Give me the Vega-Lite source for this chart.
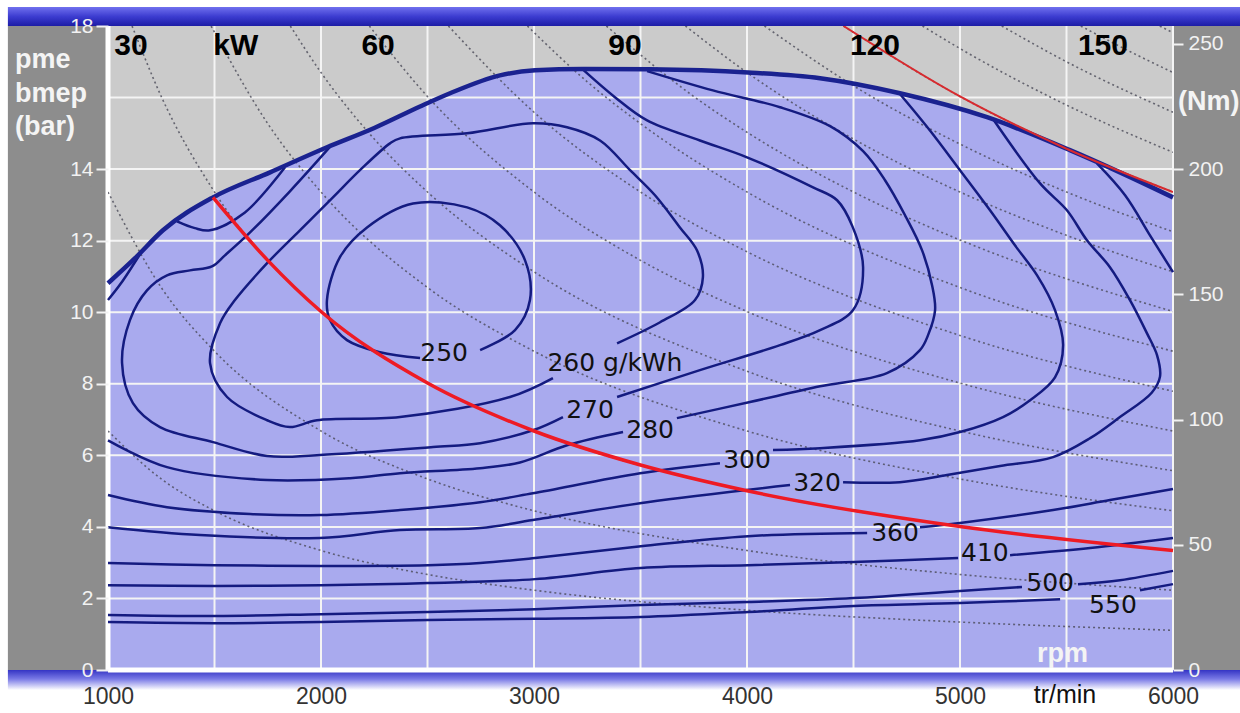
{
"$schema": "https://vega.github.io/schema/vega-lite/v6.json",
"width": 1065, "height": 644,
"autosize": {"type": "none"},
"padding": {"left": 108, "top": 26, "right": 67, "bottom": 43},
"background": "#ffffff",
"config": {"view": {"fill": "#cbcbcb", "stroke": null}, "text": {"font": "Liberation Sans"}},
"datasets": {
"side": [{"r": 530, "r2": 1000, "b": 0, "b2": 18}, {"r": 6000, "r2": 6330, "b": 0, "b2": 18}],
"topband": [{"r": 530, "r2": 6330, "b": 18, "b2": 18.53}],
"botband": [{"r": 530, "r2": 6330, "b": -0.56, "b2": 0}],
"gx": [{"r": 1500}, {"r": 2000}, {"r": 2500}, {"r": 3000}, {"r": 3500}, {"r": 4000}, {"r": 4500}, {"r": 5000}, {"r": 5500}, {"r": 6000}],
"gy": [{"b": 2}, {"b": 4}, {"b": 6}, {"b": 8}, {"b": 10}, {"b": 12}, {"b": 14}, {"b": 16}],
"fx": [{"r": 1000}],
"fy": [{"b": 0}],
"fl": [{"r":1000,"b":10.81},{"r":1127,"b":11.51},{"r":1258,"b":12.29},{"r":1493,"b":13.21},{"r":1761,"b":13.91},{"r":2028,"b":14.61},{"r":2250,"b":15.15},{"r":2465,"b":15.75},{"r":2606,"b":16.12},{"r":2840,"b":16.62},{"r":3005,"b":16.76},{"r":3230,"b":16.8},{"r":3545,"b":16.79},{"r":4005,"b":16.7},{"r":4343,"b":16.54},{"r":4718,"b":16.12},{"r":5127,"b":15.45},{"r":5516,"b":14.53},{"r":5751,"b":13.91},{"r":6000,"b":13.21}],
"pw": [
{"p":10,"r":1000,"b":6.68},{"p":10,"r":1250,"b":5.34},{"p":10,"r":1500,"b":4.45},{"p":10,"r":2000,"b":3.34},{"p":10,"r":2500,"b":2.67},{"p":10,"r":3000,"b":2.23},{"p":10,"r":4000,"b":1.67},{"p":10,"r":5000,"b":1.34},{"p":10,"r":6000,"b":1.11},
{"p":20,"r":1000,"b":13.36},{"p":20,"r":1250,"b":10.69},{"p":20,"r":1500,"b":8.91},{"p":20,"r":2000,"b":6.68},{"p":20,"r":2500,"b":5.34},{"p":20,"r":3000,"b":4.45},{"p":20,"r":4000,"b":3.34},{"p":20,"r":5000,"b":2.67},{"p":20,"r":6000,"b":2.23},
{"p":30,"r":1113,"b":18},{"p":30,"r":1250,"b":16.03},{"p":30,"r":1500,"b":13.36},{"p":30,"r":2000,"b":10.02},{"p":30,"r":2500,"b":8.02},{"p":30,"r":3000,"b":6.68},{"p":30,"r":4000,"b":5.01},{"p":30,"r":5000,"b":4.01},{"p":30,"r":6000,"b":3.34},
{"p":40,"r":1484,"b":18},{"p":40,"r":1750,"b":15.27},{"p":40,"r":2000,"b":13.36},{"p":40,"r":2500,"b":10.69},{"p":40,"r":3000,"b":8.91},{"p":40,"r":4000,"b":6.68},{"p":40,"r":5000,"b":5.34},{"p":40,"r":6000,"b":4.45},
{"p":50,"r":1856,"b":18},{"p":50,"r":2000,"b":16.7},{"p":50,"r":2250,"b":14.84},{"p":50,"r":2500,"b":13.36},{"p":50,"r":3000,"b":11.13},{"p":50,"r":4000,"b":8.35},{"p":50,"r":5000,"b":6.68},{"p":50,"r":6000,"b":5.57},
{"p":60,"r":2227,"b":18},{"p":60,"r":2500,"b":16.03},{"p":60,"r":3000,"b":13.36},{"p":60,"r":3500,"b":11.45},{"p":60,"r":4000,"b":10.02},{"p":60,"r":5000,"b":8.02},{"p":60,"r":6000,"b":6.68},
{"p":70,"r":2598,"b":18},{"p":70,"r":3000,"b":15.59},{"p":70,"r":3500,"b":13.36},{"p":70,"r":4000,"b":11.69},{"p":70,"r":5000,"b":9.35},{"p":70,"r":6000,"b":7.79},
{"p":80,"r":2969,"b":18},{"p":80,"r":3250,"b":16.44},{"p":80,"r":3500,"b":15.27},{"p":80,"r":4000,"b":13.36},{"p":80,"r":5000,"b":10.69},{"p":80,"r":6000,"b":8.91},
{"p":90,"r":3340,"b":18},{"p":90,"r":3750,"b":16.03},{"p":90,"r":4000,"b":15.03},{"p":90,"r":4500,"b":13.36},{"p":90,"r":5000,"b":12.02},{"p":90,"r":6000,"b":10.02},
{"p":100,"r":3711,"b":18},{"p":100,"r":4000,"b":16.7},{"p":100,"r":4500,"b":14.84},{"p":100,"r":5000,"b":13.36},{"p":100,"r":5500,"b":12.15},{"p":100,"r":6000,"b":11.13},
{"p":110,"r":4082,"b":18},{"p":110,"r":4500,"b":16.33},{"p":110,"r":5000,"b":14.7},{"p":110,"r":5500,"b":13.36},{"p":110,"r":6000,"b":12.25},
{"p":120,"r":4453,"b":18},{"p":120,"r":5000,"b":16.03},{"p":120,"r":5500,"b":14.57},{"p":120,"r":6000,"b":13.36},
{"p":130,"r":4824,"b":18},{"p":130,"r":5000,"b":17.37},{"p":130,"r":5500,"b":15.79},{"p":130,"r":6000,"b":14.47},
{"p":140,"r":5196,"b":18},{"p":140,"r":5500,"b":17.0},{"p":140,"r":6000,"b":15.59},
{"p":150,"r":5567,"b":18},{"p":150,"r":5800,"b":17.28},{"p":150,"r":6000,"b":16.7},
{"p":160,"r":5938,"b":18},{"p":160,"r":6000,"b":17.81}
],
"red30": [{"r":1493,"b":13.21},{"r":1750,"b":11.45},{"r":2000,"b":10.02},{"r":2500,"b":8.02},{"r":3000,"b":6.68},{"r":3500,"b":5.73},{"r":4000,"b":5.01},{"r":5000,"b":4.01},{"r":6000,"b":3.34}],
"red120": [{"r":4453,"b":18},{"r":5000,"b":16.03},{"r":5500,"b":14.57},{"r":6000,"b":13.36}],
"ct": [
{"s":"550a","i":0,"r":1000,"b":1.34},{"s":"550a","i":1,"r":1502,"b":1.31},{"s":"550a","i":2,"r":2000,"b":1.34},{"s":"550a","i":3,"r":2502,"b":1.4},{"s":"550a","i":4,"r":3005,"b":1.43},{"s":"550a","i":5,"r":3502,"b":1.48},{"s":"550a","i":6,"r":4005,"b":1.62},{"s":"550a","i":7,"r":4502,"b":1.79},{"s":"550a","i":8,"r":5000,"b":1.87},{"s":"550a","i":9,"r":5470,"b":1.98},
{"s":"550b","i":0,"r":5845,"b":2.23},{"s":"550b","i":1,"r":6000,"b":2.4},
{"s":"500a","i":0,"r":1000,"b":1.54},{"s":"500a","i":1,"r":1502,"b":1.51},{"s":"500a","i":2,"r":2000,"b":1.56},{"s":"500a","i":3,"r":2502,"b":1.62},{"s":"500a","i":4,"r":3005,"b":1.7},{"s":"500a","i":5,"r":3502,"b":1.82},{"s":"500a","i":6,"r":4005,"b":1.9},{"s":"500a","i":7,"r":4502,"b":2.01},{"s":"500a","i":8,"r":5000,"b":2.21},{"s":"500a","i":9,"r":5291,"b":2.32},
{"s":"500b","i":0,"r":5554,"b":2.4},{"s":"500b","i":1,"r":5751,"b":2.51},{"s":"500b","i":2,"r":6000,"b":2.77},
{"s":"410a","i":0,"r":1000,"b":2.37},{"s":"410a","i":1,"r":1502,"b":2.35},{"s":"410a","i":2,"r":2000,"b":2.37},{"s":"410a","i":3,"r":2502,"b":2.43},{"s":"410a","i":4,"r":3005,"b":2.54},{"s":"410a","i":5,"r":3502,"b":2.85},{"s":"410a","i":6,"r":4005,"b":2.93},{"s":"410a","i":7,"r":4502,"b":3.02},{"s":"410a","i":8,"r":4991,"b":3.13},
{"s":"410b","i":0,"r":5235,"b":3.21},{"s":"410b","i":1,"r":5611,"b":3.41},{"s":"410b","i":2,"r":6000,"b":3.69},
{"s":"360a","i":0,"r":1000,"b":2.99},{"s":"360a","i":1,"r":1502,"b":2.93},{"s":"360a","i":2,"r":2000,"b":2.91},{"s":"360a","i":3,"r":2502,"b":2.93},{"s":"360a","i":4,"r":2747,"b":2.99},{"s":"360a","i":5,"r":3005,"b":3.13},{"s":"360a","i":6,"r":3502,"b":3.46},{"s":"360a","i":7,"r":4005,"b":3.74},{"s":"360a","i":8,"r":4564,"b":3.83},
{"s":"360b","i":0,"r":4812,"b":3.99},{"s":"360b","i":1,"r":5000,"b":4.11},{"s":"360b","i":2,"r":5437,"b":4.47},{"s":"360b","i":3,"r":5704,"b":4.75},{"s":"360b","i":4,"r":6000,"b":5.06},
{"s":"360c","i":0,"r":5643,"b":14.16},{"s":"360c","i":1,"r":5775,"b":13.27},{"s":"360c","i":2,"r":5892,"b":12.15},{"s":"360c","i":3,"r":6000,"b":11.12},
{"s":"320a","i":0,"r":1000,"b":3.99},{"s":"320a","i":1,"r":1432,"b":3.77},{"s":"320a","i":2,"r":1995,"b":3.69},{"s":"320a","i":3,"r":2371,"b":3.91},{"s":"320a","i":4,"r":2747,"b":3.97},{"s":"320a","i":5,"r":2995,"b":4.19},{"s":"320a","i":6,"r":3531,"b":4.69},{"s":"320a","i":7,"r":4202,"b":5.17},
{"s":"320b","i":0,"r":4451,"b":5.25},{"s":"320b","i":1,"r":4718,"b":5.25},{"s":"320b","i":2,"r":4939,"b":5.45},{"s":"320b","i":3,"r":5188,"b":5.7},{"s":"320b","i":4,"r":5437,"b":5.95},{"s":"320b","i":5,"r":5611,"b":6.48},{"s":"320b","i":6,"r":5751,"b":7.07},{"s":"320b","i":7,"r":5900,"b":7.75},{"s":"320b","i":8,"r":5939,"b":8.2},{"s":"320b","i":9,"r":5925,"b":8.8},{"s":"320b","i":10,"r":5878,"b":9.41},{"s":"320b","i":11,"r":5798,"b":10.34},{"s":"320b","i":12,"r":5704,"b":11.26},{"s":"320b","i":13,"r":5596,"b":12.01},{"s":"320b","i":14,"r":5502,"b":12.85},{"s":"320b","i":15,"r":5376,"b":13.6},{"s":"320b","i":16,"r":5155,"b":15.4},
{"s":"300a","i":0,"r":1000,"b":4.89},{"s":"300a","i":1,"r":1277,"b":4.55},{"s":"300a","i":2,"r":1667,"b":4.36},{"s":"300a","i":3,"r":1995,"b":4.33},{"s":"300a","i":4,"r":2371,"b":4.47},{"s":"300a","i":5,"r":2747,"b":4.69},{"s":"300a","i":6,"r":2995,"b":4.94},{"s":"300a","i":7,"r":3498,"b":5.5},{"s":"300a","i":8,"r":3873,"b":5.78},
{"s":"300b","i":0,"r":4122,"b":6.15},{"s":"300b","i":1,"r":4343,"b":6.2},{"s":"300b","i":2,"r":4812,"b":6.42},{"s":"300b","i":3,"r":5000,"b":6.65},{"s":"300b","i":4,"r":5202,"b":7.07},{"s":"300b","i":5,"r":5329,"b":7.54},{"s":"300b","i":6,"r":5446,"b":8.18},{"s":"300b","i":7,"r":5484,"b":9.08},{"s":"300b","i":8,"r":5446,"b":10.06},{"s":"300b","i":9,"r":5362,"b":11.03},{"s":"300b","i":10,"r":5258,"b":11.87},{"s":"300b","i":11,"r":5141,"b":12.85},{"s":"300b","i":12,"r":5000,"b":13.97},{"s":"300b","i":13,"r":4859,"b":15.08},{"s":"300b","i":14,"r":4718,"b":16.1},
{"s":"280a","i":0,"r":1000,"b":6.42},{"s":"280a","i":1,"r":1277,"b":5.67},{"s":"280a","i":2,"r":1747,"b":5.31},{"s":"280a","i":3,"r":2136,"b":5.36},{"s":"280a","i":4,"r":2371,"b":5.5},{"s":"280a","i":5,"r":2747,"b":5.64},{"s":"280a","i":6,"r":2934,"b":5.8},{"s":"280a","i":7,"r":3155,"b":6.28},{"s":"280a","i":8,"r":3418,"b":6.65},
{"s":"280b","i":0,"r":3671,"b":7.04},{"s":"280b","i":1,"r":4014,"b":7.49},{"s":"280b","i":2,"r":4343,"b":7.93},{"s":"280b","i":3,"r":4657,"b":8.3},{"s":"280b","i":4,"r":4812,"b":8.94},{"s":"280b","i":5,"r":4850,"b":9.36},{"s":"280b","i":6,"r":4883,"b":10.06},{"s":"280b","i":7,"r":4869,"b":10.75},{"s":"280b","i":8,"r":4822,"b":11.73},{"s":"280b","i":9,"r":4742,"b":12.71},{"s":"280b","i":10,"r":4648,"b":13.69},{"s":"280b","i":11,"r":4545,"b":14.5},{"s":"280b","i":12,"r":4390,"b":15.2},{"s":"280b","i":13,"r":4155,"b":15.73},{"s":"280b","i":14,"r":3840,"b":16.2},{"s":"280b","i":15,"r":3531,"b":16.74},
{"s":"270a","i":0,"r":2042,"b":14.62},{"s":"270a","i":1,"r":1854,"b":13.38},{"s":"270a","i":2,"r":1667,"b":12.23},{"s":"270a","i":3,"r":1549,"b":11.59},{"s":"270a","i":4,"r":1488,"b":11.28},{"s":"270a","i":5,"r":1385,"b":11.17},{"s":"270a","i":6,"r":1277,"b":11.03},{"s":"270a","i":7,"r":1183,"b":10.61},{"s":"270a","i":8,"r":1103,"b":9.78},{"s":"270a","i":9,"r":1066,"b":8.58},{"s":"270a","i":10,"r":1117,"b":7.46},{"s":"270a","i":11,"r":1244,"b":6.79},{"s":"270a","i":12,"r":1493,"b":6.37},{"s":"270a","i":13,"r":1747,"b":5.98},{"s":"270a","i":14,"r":1995,"b":6.01},{"s":"270a","i":15,"r":2526,"b":6.23},{"s":"270a","i":16,"r":2747,"b":6.34},{"s":"270a","i":17,"r":2995,"b":6.7},{"s":"270a","i":18,"r":3136,"b":7.07},
{"s":"270b","i":0,"r":3390,"b":7.63},{"s":"270b","i":1,"r":3779,"b":8.38},{"s":"270b","i":2,"r":4155,"b":9.08},{"s":"270b","i":3,"r":4343,"b":9.5},{"s":"270b","i":4,"r":4498,"b":10.06},{"s":"270b","i":5,"r":4545,"b":11.26},{"s":"270b","i":6,"r":4495,"b":12.4},{"s":"270b","i":7,"r":4423,"b":13.13},{"s":"270b","i":8,"r":4310,"b":13.49},{"s":"270b","i":9,"r":4000,"b":14.33},{"s":"270b","i":10,"r":3779,"b":14.8},{"s":"270b","i":11,"r":3531,"b":15.36},{"s":"270b","i":12,"r":3380,"b":16.01},{"s":"270b","i":13,"r":3230,"b":16.78},
{"s":"260","i":0,"r":3390,"b":9.13},{"s":"260","i":1,"r":3592,"b":9.72},{"s":"260","i":2,"r":3756,"b":10.34},{"s":"260","i":3,"r":3793,"b":10.98},{"s":"260","i":4,"r":3765,"b":11.73},{"s":"260","i":5,"r":3685,"b":12.37},{"s":"260","i":6,"r":3568,"b":13.27},{"s":"260","i":7,"r":3451,"b":13.97},{"s":"260","i":8,"r":3310,"b":14.8},{"s":"260","i":9,"r":3155,"b":15.17},{"s":"260","i":10,"r":2995,"b":15.28},{"s":"260","i":11,"r":2686,"b":15.0},{"s":"260","i":12,"r":2371,"b":14.86},{"s":"260","i":13,"r":2324,"b":14.72},{"s":"260","i":14,"r":2183,"b":13.97},{"s":"260","i":15,"r":2056,"b":13.21},{"s":"260","i":16,"r":1901,"b":12.29},{"s":"260","i":17,"r":1747,"b":11.37},{"s":"260","i":18,"r":1596,"b":10.34},{"s":"260","i":19,"r":1526,"b":9.69},{"s":"260","i":20,"r":1479,"b":8.58},{"s":"260","i":21,"r":1559,"b":7.63},{"s":"260","i":22,"r":1747,"b":6.98},{"s":"260","i":23,"r":1854,"b":6.79},{"s":"260","i":24,"r":1981,"b":6.98},{"s":"260","i":25,"r":2371,"b":7.07},{"s":"260","i":26,"r":2887,"b":7.63},{"s":"260","i":27,"r":3089,"b":8.16},
{"s":"250","i":0,"r":2747,"b":8.94},{"s":"250","i":1,"r":2911,"b":9.5},{"s":"250","i":2,"r":2981,"b":10.34},{"s":"250","i":3,"r":2958,"b":11.45},{"s":"250","i":4,"r":2840,"b":12.43},{"s":"250","i":5,"r":2686,"b":12.93},{"s":"250","i":6,"r":2432,"b":13.04},{"s":"250","i":7,"r":2216,"b":12.37},{"s":"250","i":8,"r":2089,"b":11.54},{"s":"250","i":9,"r":2028,"b":10.34},{"s":"250","i":10,"r":2042,"b":9.78},{"s":"250","i":11,"r":2122,"b":9.22},{"s":"250","i":12,"r":2277,"b":8.88},{"s":"250","i":13,"r":2465,"b":8.72},
{"s":"lobe","i":0,"r":1324,"b":12.54},{"s":"lobe","i":1,"r":1408,"b":12.35},{"s":"lobe","i":2,"r":1479,"b":12.29},{"s":"lobe","i":3,"r":1643,"b":12.79},{"s":"lobe","i":4,"r":1831,"b":14.05},
{"s":"lt","i":0,"r":1000,"b":10.34},{"s":"lt","i":1,"r":1060,"b":10.8},{"s":"lt","i":2,"r":1150,"b":11.62}
],
"clab": [{"t":"250","r":2578,"b":8.85},{"t":"260 g/kWh","r":3380,"b":8.58},{"t":"270","r":3263,"b":7.26},{"t":"280","r":3545,"b":6.7},{"t":"300","r":4000,"b":5.87},{"t":"320","r":4329,"b":5.22},{"t":"360","r":4695,"b":3.83},{"t":"410","r":5117,"b":3.27},{"t":"500","r":5423,"b":2.43},{"t":"550","r":5718,"b":1.82}],
"kwlab": [{"t":"30","r":1108,"b":17.45},{"t":"kW","r":1600,"b":17.45},{"t":"60","r":2268,"b":17.45},{"t":"90","r":3427,"b":17.45},{"t":"120","r":4601,"b":17.45},{"t":"150","r":5671,"b":17.45}],
"wlab": [{"t":"pme","r":563,"b":16.84},{"t":"bmep","r":563,"b":15.87},{"t":"(bar)","r":563,"b":14.94},{"t":"(Nm)","r":6024,"b":15.64},{"t":"rpm","r":5362,"b":0.22}],
"blab": [{"t":"tr/min","r":5493,"b":-0.92}]
},
"resolve": {"scale": {"y": "independent"}, "axis": {"y": "independent"}},
"layer": [
{"layer": [
{"data": {"name": "side"}, "mark": {"type": "rect", "color": "#8d8d8d"},
 "encoding": {"x": {"field": "r", "type": "quantitative", "title": null, "scale": {"domain": [1000, 6000], "nice": false, "zero": false}}, "x2": {"field": "r2"},
  "y": {"field": "b", "type": "quantitative", "title": null, "scale": {"domain": [0, 18], "nice": false, "zero": false}}, "y2": {"field": "b2"}}},
{"data": {"name": "topband"}, "mark": {"type": "rect", "color": {"gradient": "linear", "x1": 0, "y1": 0, "x2": 0, "y2": 1, "stops": [{"offset": 0, "color": "#7070ee"}, {"offset": 0.5, "color": "#3c3cd0"}, {"offset": 1, "color": "#1c1ca6"}]}},
 "encoding": {"x": {"field": "r", "type": "quantitative", "title": null, "scale": {"domain": [1000, 6000], "nice": false, "zero": false}}, "x2": {"field": "r2"},
  "y": {"field": "b", "type": "quantitative", "title": null, "scale": {"domain": [0, 18], "nice": false, "zero": false}}, "y2": {"field": "b2"}}},
{"data": {"name": "botband"}, "mark": {"type": "rect", "color": {"gradient": "linear", "x1": 0, "y1": 0, "x2": 0, "y2": 1, "stops": [{"offset": 0, "color": "#3434c4"}, {"offset": 0.45, "color": "#7a7ae6"}, {"offset": 1, "color": "#ffffff"}]}},
 "encoding": {"x": {"field": "r", "type": "quantitative", "title": null, "scale": {"domain": [1000, 6000], "nice": false, "zero": false}}, "x2": {"field": "r2"},
  "y": {"field": "b", "type": "quantitative", "title": null, "scale": {"domain": [0, 18], "nice": false, "zero": false}}, "y2": {"field": "b2"}}},
{"data": {"name": "fl"}, "mark": {"type": "area", "interpolate": "monotone", "color": "#a9aaee"},
 "encoding": {"x": {"field": "r", "type": "quantitative", "title": null, "scale": {"domain": [1000, 6000], "nice": false, "zero": false},
   "axis": {"values": [1000, 2000, 3000, 4000, 5000, 6000], "format": "d", "grid": false, "domain": false, "ticks": false, "labelFontSize": 23, "labelFont": "Liberation Sans", "labelColor": "#333333", "labelPadding": 15, "title": null, "labelFlush": false, "zindex": 1}},
  "y": {"field": "b", "type": "quantitative", "title": null, "scale": {"domain": [0, 18], "nice": false, "zero": false},
   "axis": {"values": [0, 2, 4, 6, 8, 10, 12, 14, 18], "grid": false, "domain": false, "tickColor": "#f2f2f2", "tickWidth": 2, "tickSize": 12, "labelColor": "#f2f2f2", "labelFontSize": 21, "labelFont": "Liberation Sans", "labelPadding": 3, "title": null, "labelFlush": false, "zindex": 1}},
  "y2": {"datum": 0}}},
{"data": {"name": "gx"}, "mark": {"type": "rule", "color": "#f4f4f4", "strokeWidth": 2},
 "encoding": {"x": {"field": "r", "type": "quantitative", "title": null, "scale": {"domain": [1000, 6000], "nice": false, "zero": false}}}},
{"data": {"name": "gy"}, "mark": {"type": "rule", "color": "#f4f4f4", "strokeWidth": 2},
 "encoding": {"y": {"field": "b", "type": "quantitative", "title": null, "scale": {"domain": [0, 18], "nice": false, "zero": false}}}},
{"data": {"name": "fx"}, "mark": {"type": "rule", "color": "#ffffff", "strokeWidth": 5},
 "encoding": {"x": {"field": "r", "type": "quantitative", "title": null, "scale": {"domain": [1000, 6000], "nice": false, "zero": false}}}},
{"data": {"name": "fy"}, "mark": {"type": "rule", "color": "#ffffff", "strokeWidth": 5},
 "encoding": {"y": {"field": "b", "type": "quantitative", "title": null, "scale": {"domain": [0, 18], "nice": false, "zero": false}}}},
{"data": {"name": "pw"}, "mark": {"type": "line", "interpolate": "monotone", "color": "#4a4a58", "strokeWidth": 1.6, "strokeDash": [2, 3], "opacity": 0.8, "clip": true},
 "encoding": {"x": {"field": "r", "type": "quantitative", "title": null, "scale": {"domain": [1000, 6000], "nice": false, "zero": false}},
  "y": {"field": "b", "type": "quantitative", "title": null, "scale": {"domain": [0, 18], "nice": false, "zero": false}},
  "detail": {"field": "p", "type": "nominal"}}},
{"data": {"name": "ct"}, "mark": {"type": "line", "interpolate": "catmull-rom", "color": "#141b80", "strokeWidth": 2.5},
 "encoding": {"x": {"field": "r", "type": "quantitative", "title": null, "scale": {"domain": [1000, 6000], "nice": false, "zero": false}},
  "y": {"field": "b", "type": "quantitative", "title": null, "scale": {"domain": [0, 18], "nice": false, "zero": false}},
  "detail": {"field": "s", "type": "nominal"}, "order": {"field": "i", "type": "quantitative"}}},
{"data": {"name": "fl"}, "mark": {"type": "line", "interpolate": "monotone", "color": "#1a2290", "strokeWidth": 4.5},
 "encoding": {"x": {"field": "r", "type": "quantitative", "title": null, "scale": {"domain": [1000, 6000], "nice": false, "zero": false}},
  "y": {"field": "b", "type": "quantitative", "title": null, "scale": {"domain": [0, 18], "nice": false, "zero": false}}}},
{"data": {"name": "red30"}, "mark": {"type": "line", "interpolate": "monotone", "color": "#ee1b24", "strokeWidth": 3.5},
 "encoding": {"x": {"field": "r", "type": "quantitative", "title": null, "scale": {"domain": [1000, 6000], "nice": false, "zero": false}},
  "y": {"field": "b", "type": "quantitative", "title": null, "scale": {"domain": [0, 18], "nice": false, "zero": false}}}},
{"data": {"name": "red120"}, "mark": {"type": "line", "interpolate": "monotone", "color": "#d82a2e", "strokeWidth": 2, "clip": true},
 "encoding": {"x": {"field": "r", "type": "quantitative", "title": null, "scale": {"domain": [1000, 6000], "nice": false, "zero": false}},
  "y": {"field": "b", "type": "quantitative", "title": null, "scale": {"domain": [0, 18], "nice": false, "zero": false}}}},
{"data": {"name": "clab"}, "mark": {"type": "text", "font": "DejaVu Sans", "fontSize": 25, "color": "#111111", "align": "center", "baseline": "middle"},
 "encoding": {"x": {"field": "r", "type": "quantitative", "title": null, "scale": {"domain": [1000, 6000], "nice": false, "zero": false}},
  "y": {"field": "b", "type": "quantitative", "title": null, "scale": {"domain": [0, 18], "nice": false, "zero": false}}, "text": {"field": "t"}}},
{"data": {"name": "kwlab"}, "mark": {"type": "text", "font": "Liberation Sans", "fontWeight": "bold", "fontSize": 30, "color": "#000000", "align": "center", "baseline": "middle"},
 "encoding": {"x": {"field": "r", "type": "quantitative", "title": null, "scale": {"domain": [1000, 6000], "nice": false, "zero": false}},
  "y": {"field": "b", "type": "quantitative", "title": null, "scale": {"domain": [0, 18], "nice": false, "zero": false}}, "text": {"field": "t"}}},
{"data": {"name": "wlab"}, "mark": {"type": "text", "font": "Liberation Sans", "fontWeight": "bold", "fontSize": 27, "color": "#f4f4f4", "align": "left", "baseline": "alphabetic"},
 "encoding": {"x": {"field": "r", "type": "quantitative", "title": null, "scale": {"domain": [1000, 6000], "nice": false, "zero": false}},
  "y": {"field": "b", "type": "quantitative", "title": null, "scale": {"domain": [0, 18], "nice": false, "zero": false}}, "text": {"field": "t"}}},
{"data": {"name": "blab"}, "mark": {"type": "text", "font": "Liberation Sans", "fontSize": 25, "color": "#111111", "align": "center", "baseline": "alphabetic"},
 "encoding": {"x": {"field": "r", "type": "quantitative", "title": null, "scale": {"domain": [1000, 6000], "nice": false, "zero": false}},
  "y": {"field": "b", "type": "quantitative", "title": null, "scale": {"domain": [0, 18], "nice": false, "zero": false}}, "text": {"field": "t"}}}
]},
{"data": {"values": [{"nm": 0}, {"nm": 250}]}, "mark": {"type": "point", "opacity": 0},
 "encoding": {"y": {"field": "nm", "type": "quantitative", "title": null, "scale": {"domain": [0, 257.14], "nice": false, "zero": false},
  "axis": {"orient": "right", "values": [0, 50, 100, 150, 200, 250], "grid": false, "domain": false, "tickColor": "#f2f2f2", "tickWidth": 2, "tickSize": 10, "labelColor": "#f2f2f2", "labelFontSize": 21, "labelFont": "Liberation Sans", "labelPadding": 5, "title": null, "labelFlush": false, "zindex": 1}}}}
]
}
